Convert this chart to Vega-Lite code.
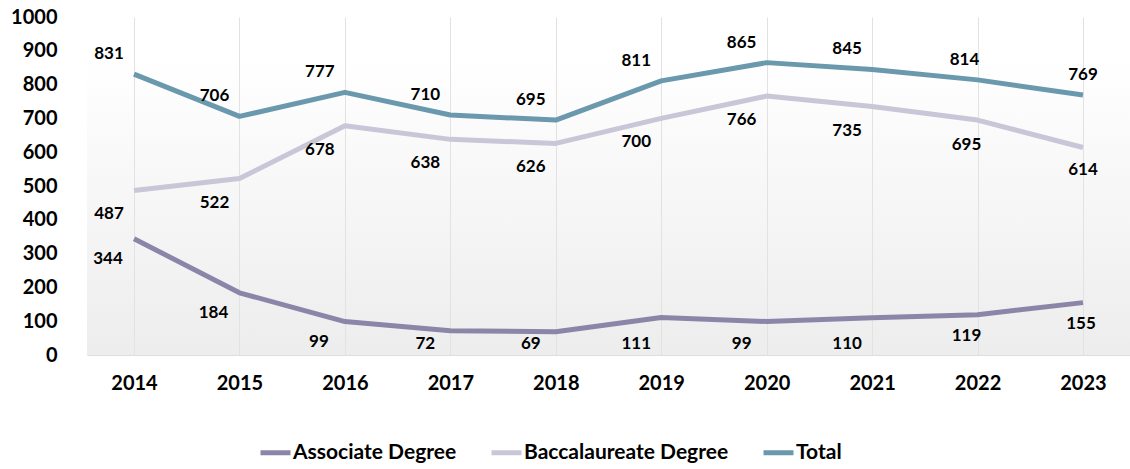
{
  "$schema": "https://vega.github.io/schema/vega-lite/v6.json",
  "autosize": "none",
  "width": 1043,
  "height": 338,
  "padding": {"left": 87, "top": 17, "right": 0, "bottom": 114},
  "background": "#ffffff",
  "config": {
    "font": "Lato",
    "view": {
      "stroke": null,
      "fill": {"gradient": "linear", "x1": 0, "y1": 0, "x2": 0, "y2": 1,
        "stops": [{"offset": 0, "color": "#ffffff"}, {"offset": 0.12, "color": "#ffffff"}, {"offset": 1, "color": "#ededed"}]}
    },
    "text": {"font": "Lato", "fontSize": 17, "fontWeight": "bold", "color": "#000000", "align": "center", "baseline": "middle"}
  },
  "data": {
    "values": [
      {"year": "2014", "series": "Associate Degree", "value": 344},
      {"year": "2015", "series": "Associate Degree", "value": 184},
      {"year": "2016", "series": "Associate Degree", "value": 99},
      {"year": "2017", "series": "Associate Degree", "value": 72},
      {"year": "2018", "series": "Associate Degree", "value": 69},
      {"year": "2019", "series": "Associate Degree", "value": 111},
      {"year": "2020", "series": "Associate Degree", "value": 99},
      {"year": "2021", "series": "Associate Degree", "value": 110},
      {"year": "2022", "series": "Associate Degree", "value": 119},
      {"year": "2023", "series": "Associate Degree", "value": 155},
      {"year": "2014", "series": "Baccalaureate Degree", "value": 487},
      {"year": "2015", "series": "Baccalaureate Degree", "value": 522},
      {"year": "2016", "series": "Baccalaureate Degree", "value": 678},
      {"year": "2017", "series": "Baccalaureate Degree", "value": 638},
      {"year": "2018", "series": "Baccalaureate Degree", "value": 626},
      {"year": "2019", "series": "Baccalaureate Degree", "value": 700},
      {"year": "2020", "series": "Baccalaureate Degree", "value": 766},
      {"year": "2021", "series": "Baccalaureate Degree", "value": 735},
      {"year": "2022", "series": "Baccalaureate Degree", "value": 695},
      {"year": "2023", "series": "Baccalaureate Degree", "value": 614},
      {"year": "2014", "series": "Total", "value": 831},
      {"year": "2015", "series": "Total", "value": 706},
      {"year": "2016", "series": "Total", "value": 777},
      {"year": "2017", "series": "Total", "value": 710},
      {"year": "2018", "series": "Total", "value": 695},
      {"year": "2019", "series": "Total", "value": 811},
      {"year": "2020", "series": "Total", "value": 865},
      {"year": "2021", "series": "Total", "value": 845},
      {"year": "2022", "series": "Total", "value": 814},
      {"year": "2023", "series": "Total", "value": 769}
    ]
  },
  "encoding": {
    "x": {
      "field": "year", "type": "ordinal", "title": null,
      "scale": {"type": "point", "padding": 0.446},
      "axis": {
        "labelAngle": 0, "labelFont": "Lato", "labelFontSize": 20, "labelFontWeight": "bold", "labelColor": "#000000",
        "labelPadding": 18, "ticks": false, "domain": true, "domainColor": "#dddddd", "domainWidth": 1,
        "grid": true, "gridColor": "#e2e2e2", "gridWidth": 1
      }
    },
    "y": {
      "field": "value", "type": "quantitative", "title": null,
      "scale": {"domain": [0, 1000], "nice": false},
      "axis": {
        "values": [0, 100, 200, 300, 400, 500, 600, 700, 800, 900, 1000], "format": "d",
        "labelFont": "Lato", "labelFontSize": 20, "labelFontWeight": "bold", "labelColor": "#000000",
        "labelPadding": 30, "ticks": false, "domain": false, "grid": false
      }
    }
  },
  "layer": [
    {
      "mark": {"type": "line", "strokeWidth": 5, "strokeJoin": "round"},
      "encoding": {
        "color": {
          "field": "series", "type": "nominal", "title": null,
          "scale": {"domain": ["Associate Degree", "Baccalaureate Degree", "Total"], "range": ["#8b86a8", "#c9c6d8", "#6a98ad"]},
          "legend": {
            "orient": "none", "legendX": 171, "legendY": 418, "direction": "horizontal",
            "symbolType": "stroke", "symbolSize": 900, "symbolStrokeWidth": 5,
            "labelFont": "Lato", "labelFontSize": 21, "labelFontWeight": "bold", "labelColor": "#000000",
            "labelOffset": 0, "columnPadding": 24, "padding": 0, "labelLimit": 400
          }
        }
      }
    },
    {
      "transform": [{"filter": "datum.series == 'Total' && toNumber(datum.year) <= 2021"}],
      "mark": {"type": "text", "dx": -25, "dy": -20},
      "encoding": {"text": {"field": "value"}}
    },
    {
      "transform": [{"filter": "datum.series == 'Total' && datum.year == '2022'"}],
      "mark": {"type": "text", "dx": -13, "dy": -20},
      "encoding": {"text": {"field": "value"}}
    },
    {
      "transform": [{"filter": "datum.series == 'Total' && datum.year == '2023'"}],
      "mark": {"type": "text", "dx": 0, "dy": -20},
      "encoding": {"text": {"field": "value"}}
    },
    {
      "transform": [{"filter": "datum.series == 'Baccalaureate Degree' && toNumber(datum.year) <= 2021"}],
      "mark": {"type": "text", "dx": -25, "dy": 24},
      "encoding": {"text": {"field": "value"}}
    },
    {
      "transform": [{"filter": "datum.series == 'Baccalaureate Degree' && datum.year == '2022'"}],
      "mark": {"type": "text", "dx": -11, "dy": 25},
      "encoding": {"text": {"field": "value"}}
    },
    {
      "transform": [{"filter": "datum.series == 'Baccalaureate Degree' && datum.year == '2023'"}],
      "mark": {"type": "text", "dx": 0, "dy": 23},
      "encoding": {"text": {"field": "value"}}
    },
    {
      "transform": [{"filter": "datum.series == 'Associate Degree' && toNumber(datum.year) <= 2016"}],
      "mark": {"type": "text", "dx": -26, "dy": 20},
      "encoding": {"text": {"field": "value"}}
    },
    {
      "transform": [{"filter": "datum.series == 'Associate Degree' && toNumber(datum.year) >= 2017 && toNumber(datum.year) <= 2021"}],
      "mark": {"type": "text", "dx": -25, "dy": -11},
      "encoding": {"text": {"field": "value"}, "y": {"datum": 0, "type": "quantitative"}}
    },
    {
      "transform": [{"filter": "datum.series == 'Associate Degree' && datum.year == '2022'"}],
      "mark": {"type": "text", "dx": -11, "dy": 21},
      "encoding": {"text": {"field": "value"}}
    },
    {
      "transform": [{"filter": "datum.series == 'Associate Degree' && datum.year == '2023'"}],
      "mark": {"type": "text", "dx": -2, "dy": 21},
      "encoding": {"text": {"field": "value"}}
    }
  ]
}
